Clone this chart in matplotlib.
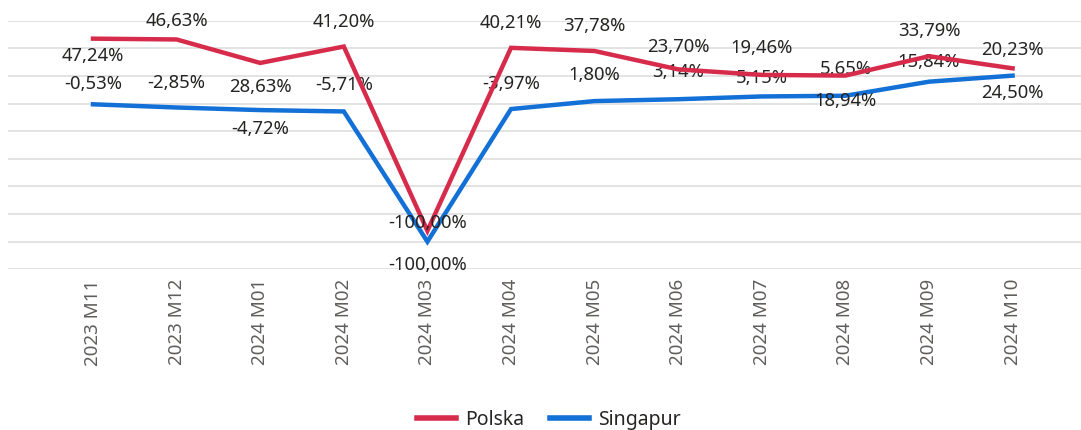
import matplotlib
matplotlib.use("Agg")
import matplotlib.pyplot as plt
from matplotlib.lines import Line2D

plt.rcParams['font.family'] = ['Noto Sans', 'DejaVu Sans']

categories = ["2023 M11", "2023 M12", "2024 M01", "2024 M02", "2024 M03", "2024 M04",
              "2024 M05", "2024 M06", "2024 M07", "2024 M08", "2024 M09", "2024 M10"]
polska = [47.24, 46.63, 28.63, 41.20, -100.00, 40.21, 37.78, 23.70, 19.46, 18.94, 33.79, 24.50]
singapur = [-0.53, -2.85, -4.72, -5.71, -100.00, -3.97, 1.80, 3.14, 5.15, 5.65, 15.84, 20.23]

# label offsets in pixels (positive = below the point)
polska_off = [17, -18, 24, -25, -8, -25, -25, -22, -27, 25, -25, 25]
singapur_off = [-20, -25, 19, -26, 23, -25, -26, -27, -18, -27, -20, -26]

RED = "#D72B4B"
BLUE = "#1270D6"
TXT = "#252423"
GRID = "#E1E1E1"

W, H, DPI = 1081, 430, 100
fig = plt.figure(figsize=(W / DPI, H / DPI), dpi=DPI)
left, right, top, bottom = 8, 1081, 20.7, 269.3
ax = fig.add_axes([left / W, 1 - bottom / H, (right - left) / W, (bottom - top) / H])
ax2 = ax.twinx()

x = list(range(len(categories)))
sp = 83.6
ax.set_xlim((left - 93) / sp, (right - 93) / sp)
ax.set_ylim(-120, 60)
ax.set_yticks(range(-120, 61, 20))
ax.yaxis.grid(True, color=GRID, linewidth=1.3)
ax.set_axisbelow(True)
ax.tick_params(axis='y', left=False, labelleft=False)
ax2.set_ylim(-129.5, 61)
ax2.tick_params(axis='y', right=False, labelright=False)
for a in (ax, ax2):
    for s in a.spines.values():
        s.set_visible(False)

ax.plot(x, singapur, color=BLUE, linewidth=3.2, solid_joinstyle='miter', zorder=3)
ax2.plot(x, polska, color=RED, linewidth=3.2, solid_joinstyle='miter', zorder=3)

ax.set_xticks(x)
ax.set_xticklabels(categories, rotation=90, color="#605E5C", fontsize=13.5)
ax.tick_params(axis='x', length=0, pad=7)

k = 72.0 / DPI
def fmt(v):
    return f"{v:.2f}".replace(".", ",") + "%"

for xi, v, o in zip(x, polska, polska_off):
    ax2.annotate(fmt(v), (xi, v), xytext=(0, -o * k), textcoords='offset points',
                 ha='center', va='center', fontsize=13.3, color=TXT, zorder=5)
for xi, v, o in zip(x, singapur, singapur_off):
    ax.annotate(fmt(v), (xi, v), xytext=(0, -o * k), textcoords='offset points',
                ha='center', va='center', fontsize=13.3, color=TXT, zorder=5)

handles = [Line2D([], [], color=RED, linewidth=4), Line2D([], [], color=BLUE, linewidth=4)]
fig.legend(handles, ["Polska", "Singapur"], loc='center', bbox_to_anchor=(549 / W, 1 - 420 / H),
           ncol=2, frameon=False, fontsize=14, handlelength=2.0, handletextpad=0.5,
           columnspacing=1.3, labelcolor=TXT)

fig.savefig("out.png", dpi=DPI)
